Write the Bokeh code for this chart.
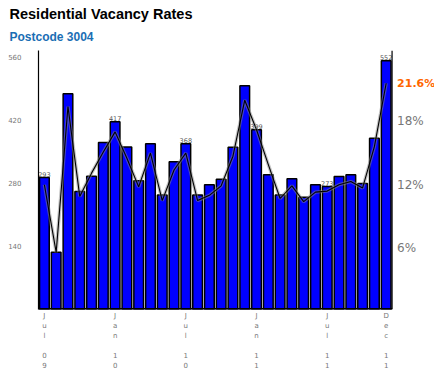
from bokeh.plotting import figure
from bokeh.models import (Range1d, FixedTicker, Title, Label, Span,
                          ColumnDataSource)
from bokeh.core.properties import value
from bokeh.embed import file_html
from bokeh.resources import INLINE

# ---- data ----
months = ["Jul 09", "Aug 09", "Sep 09", "Oct 09", "Nov 09", "Dec 09",
          "Jan 10", "Feb 10", "Mar 10", "Apr 10", "May 10", "Jun 10",
          "Jul 10", "Aug 10", "Sep 10", "Oct 10", "Nov 10", "Dec 10",
          "Jan 11", "Feb 11", "Mar 11", "Apr 11", "May 11", "Jun 11",
          "Jul 11", "Aug 11", "Sep 11", "Oct 11", "Nov 11", "Dec 11"]
vacancies = [293, 127, 479, 262, 296, 371,
             417, 361, 286, 368, 254, 328,
             368, 254, 277, 289, 360, 497,
             399, 299, 254, 290, 249, 277,
             273, 295, 299, 280, 380, 552]
vacancy_rate = [12.0, 5.6, 19.4, 10.9, 13.1, 15.1,
                17.0, 14.5, 11.8, 15.0, 10.5, 13.4,
                15.0, 10.5, 11.0, 11.9, 14.7, 20.0,
                17.2, 13.9, 10.7, 11.9, 10.4, 11.3,
                11.4, 12.0, 12.3, 11.7, 15.6, 21.6]
labelled_idx = [0, 6, 12, 18, 24, 29]
tick_labels = ["J\nu\nl\n\n0\n9", "J\na\nn\n\n1\n0", "J\nu\nl\n\n1\n0",
               "J\na\nn\n\n1\n1", "J\nu\nl\n\n1\n1", "D\ne\nc\n\n1\n1"]
left_ticks = [140, 280, 420, 560]
right_ticks = [6, 12, 18]
latest_rate_label = "21.6%"

n = len(months)
xs = list(range(1, n + 1))
x_end = n + 0.5
src = ColumnDataSource(dict(x=xs, v=vacancies, r=vacancy_rate))
lab_src = ColumnDataSource(dict(x=[xs[i] for i in labelled_idx],
                                v=[vacancies[i] for i in labelled_idx],
                                t=[str(vacancies[i]) for i in labelled_idx]))
rt_src = ColumnDataSource(dict(x=[x_end] * len(right_ticks), y=right_ticks,
                               t=[f"{t}%" for t in right_ticks]))

p = figure(width=434, height=375, output_backend="svg", toolbar_location=None,
           x_range=Range1d(0.5, x_end + 3.6), y_range=Range1d(0, 575),
           min_border_left=38, min_border_right=0, min_border_bottom=66,
           min_border_top=48, tools="")
p.title.visible = False
p.outline_line_color = None
p.xgrid.visible = False
p.ygrid.visible = False
p.background_fill_color = "white"
p.border_fill_color = "white"

p.extra_y_ranges = {"pct": Range1d(0.2, 24.7)}

# bars
p.vbar(x="x", top="v", width=0.82, source=src, fill_color="#0000ff",
       line_color="black", line_width=1.5)

# line with soft shadow
p.line(x="x", y="r", source=src, y_range_name="pct", line_color="#888888",
       line_width=3.4, line_alpha=0.5)
p.line(x="x", y="r", source=src, y_range_name="pct", line_color="black",
       line_width=1.1)

# value labels
p.text(x="x", y="v", text="t", source=lab_src, text_font=value("DejaVu Sans"),
       text_font_size="6.5px", text_color="#555555", text_align="center",
       text_baseline="bottom", y_offset=-1)

# right-hand (percentage) scale drawn at the end of the bars
p.add_layout(Span(location=x_end, dimension="height", line_color="black",
                  line_width=1.2))
p.text(x="x", y="y", text="t", source=rt_src, y_range_name="pct",
       text_font=value("DejaVu Sans"), text_font_size="12px",
       text_color="#777777", text_align="left", text_baseline="middle",
       x_offset=5)
p.add_layout(Label(x=x_end, y=vacancy_rate[-1], y_range_name="pct",
                   x_offset=5, text=latest_rate_label,
                   text_font="DejaVu Sans", text_font_size="11px",
                   text_font_style="bold", text_color="#ff6600",
                   text_baseline="middle"))

# bottom baseline (only under the bars)
p.segment(x0=[0.5], x1=[x_end], y0=[0], y1=[0], line_color="black",
          line_width=3)

# left axis
la = p.yaxis[0]
la.ticker = FixedTicker(ticks=left_ticks)
la.major_tick_line_color = None
la.minor_tick_line_color = None
la.major_tick_out = 0
la.major_tick_in = 0
la.axis_line_color = "black"
la.axis_line_width = 1.2
la.major_label_text_font = "DejaVu Sans"
la.major_label_text_font_size = "7px"
la.major_label_text_color = "#777777"
la.major_label_standoff = 17

# bottom axis
xa = p.xaxis[0]
xa.ticker = FixedTicker(ticks=[xs[i] for i in labelled_idx])
xa.major_label_overrides = {xs[i]: tick_labels[k] for k, i in enumerate(labelled_idx)}
xa.major_tick_line_color = None
xa.minor_tick_line_color = None
xa.major_tick_out = 0
xa.major_tick_in = 0
xa.axis_line_color = None
xa.major_label_text_font = "DejaVu Sans"
xa.major_label_text_font_size = "7px"
xa.major_label_text_color = "#777777"
xa.major_label_text_line_height = 1.27
xa.major_label_standoff = 2

# titles
p.add_layout(Title(text="Postcode 3004", text_font="Liberation Sans",
                   text_font_size="12px", text_font_style="bold",
                   text_color="#1a6eb4", align="left", offset=-29,
                   standoff=13), "above")
p.add_layout(Title(text="Residential Vacancy Rates", text_font="Liberation Sans",
                   text_font_size="14.5px", text_font_style="bold",
                   text_color="black", align="left", offset=-29,
                   standoff=0), "above")
p.add_layout(Title(text=" ", text_font_size="1px", standoff=0), "above")

open("out.html", "w").write(file_html(p, INLINE))
